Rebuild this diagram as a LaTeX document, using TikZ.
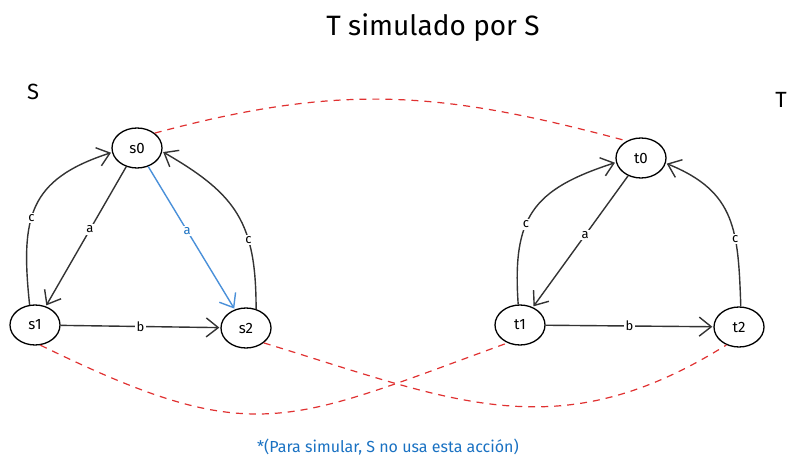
\documentclass[tikz,border=0pt]{standalone}
\usepackage{fontspec}
\setmainfont{Fira Sans}
\usetikzlibrary{shapes.geometric, arrows.meta, positioning}

\definecolor{exred}{HTML}{E03131}
\definecolor{exblue}{HTML}{1971C2}
\definecolor{exarrowblue}{HTML}{4A90D9}
\definecolor{exgray}{HTML}{333333}

\begin{document}
\begin{tikzpicture}[
    x=1pt, y=-1pt,
    font=\fontsize{13}{15}\selectfont,
    state/.style={draw, ellipse, line width=1.3pt, minimum width=50pt, minimum height=40pt, inner sep=0pt, font=\fontsize{15}{17}\selectfont},
    trans/.style={line width=1.4pt, exgray, -{Straight Barb[length=12pt, width=19pt]}, shorten >=1pt},
    lbl/.style={fill=white, inner sep=1.5pt, text=black, font=\fontsize{13}{15}\selectfont},
    sim/.style={exred, line width=1.2pt, dash pattern=on 7pt off 6pt}
]
    \useasboundingbox (0,0) rectangle (803,470);

    % Nodes
    \node[state] (s0) at (137,148) {s0};
    \node[state] (s1) at (35,325) {s1};
    \node[state] (s2) at (246,328) {s2};
    \node[state] (t0) at (641,158) {t0};
    \node[state] (t1) at (520,325) {t1};
    \node[state] (t2) at (739,327) {t2};

    % Connections (S)
    \draw[trans] (s0) -- node[lbl, pos=0.45] {a} (s1);
    \draw[trans, exarrowblue] (s0) -- node[lbl, pos=0.45, text=exblue] {a} (s2);
    \draw[trans] (s1) -- node[lbl] {b} (s2);
    \draw[trans] (s1.105) to[out=96, in=198, looseness=1.3] node[lbl, pos=0.42] {c} (s0.190);
    \draw[trans] (s2.62) to[out=90, in=-30, looseness=1.2] node[lbl, pos=0.33] {c} (s0.-8);

    % Connections (T)
    \draw[trans] (t0) -- node[lbl, pos=0.45] {a} (t1);
    \draw[trans] (t1) -- node[lbl] {b} (t2);
    \draw[trans] (t1.95) to[out=94, in=198, looseness=1.3] node[lbl, pos=0.4] {c} (t0.190);
    \draw[trans] (t2.85) to[out=92, in=-22, looseness=1.2] node[lbl, pos=0.35] {c} (t0.-12);

    % Simulation
    \draw[sim] (s0.40) to[out=15, in=165, looseness=1.05] (t0.130);
    \draw[sim] (s1.-75) to[out=-26, in=200, looseness=1.3] (t1.-125);
    \draw[sim] (s2.-40) to[out=-17, in=212, looseness=1.1] (t2.-125);

    % Labels
    \node[font=\fontsize{28}{32}\selectfont] (title) at (433,28) {T simulado por S};
    \node[font=\fontsize{22}{26}\selectfont] (lblS) at (33,92) {S};
    \node[font=\fontsize{22}{26}\selectfont] (lblT) at (781,100) {T};
    \node[text=exblue, font=\fontsize{16}{18}\selectfont] (note) at (388,447) {*(Para simular, S no usa esta acción)};
\end{tikzpicture}
\end{document}
